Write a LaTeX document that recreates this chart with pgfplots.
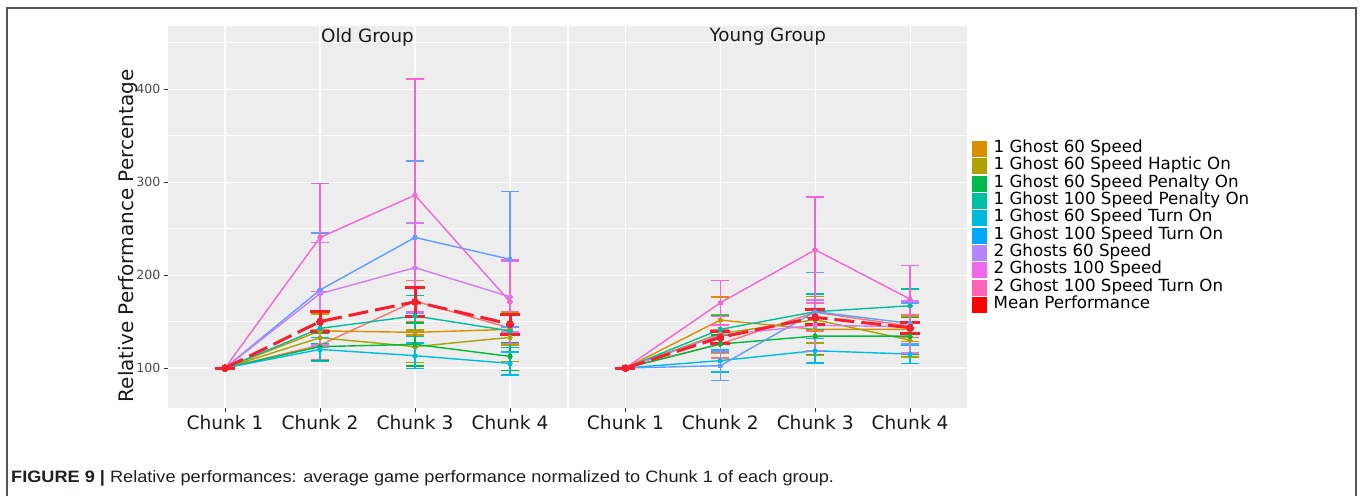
\documentclass[border=0pt]{standalone}
\usepackage{pgfplots}
\pgfplotsset{compat=1.18}
\usepackage{fontspec}
\setmainfont{DejaVu Sans}
\newfontfamily\capfont[FakeStretch=1.1]{Liberation Sans}
\definecolor{c0}{HTML}{F8766D}
\definecolor{c1}{HTML}{D89000}
\definecolor{c2}{HTML}{A3A500}
\definecolor{c3}{HTML}{00B83A}
\definecolor{c4}{HTML}{00BF9C}
\definecolor{c5}{HTML}{00BCE0}
\definecolor{c6}{HTML}{619CFF}
\definecolor{c7}{HTML}{D07DF5}
\definecolor{c9}{HTML}{F564D0}
\definecolor{l1}{HTML}{DB8E00}
\definecolor{l2}{HTML}{AEA200}
\definecolor{l3}{HTML}{00BA4A}
\definecolor{l4}{HTML}{00BFA5}
\definecolor{l5}{HTML}{00BADE}
\definecolor{l6}{HTML}{00A6FF}
\definecolor{l7}{HTML}{B385FF}
\definecolor{l8}{HTML}{EF67EB}
\definecolor{l9}{HTML}{FF63B6}
\definecolor{meanred}{HTML}{FF0000}
\definecolor{meanline}{HTML}{F5202E}
\definecolor{panelbg}{HTML}{EDEDED}
\definecolor{tickc}{HTML}{333333}
\definecolor{ytl}{HTML}{4D4D4D}
\definecolor{txt}{HTML}{1A1A1A}
\definecolor{framec}{HTML}{555555}
\definecolor{capc}{HTML}{231F20}
\pgfplotsset{
  ser/.style={color=#1, line width=1.4pt, solid, mark=*, mark size=2.2pt,
    mark options={solid, fill=#1, draw=#1, line width=0pt},
    error bars/y dir=both, error bars/y explicit,
    error bars/error bar style={line width=1.4pt, color=#1, solid},
    error bars/error mark options={rotate=90, mark size=9pt, line width=1.6pt, color=#1, solid}},
  meanser/.style={color=meanline, line width=3pt, dash pattern=on 20pt off 7pt, mark=*, mark size=3.5pt,
    mark options={solid, fill=meanline, draw=meanline, line width=0pt},
    error bars/y dir=both, error bars/y explicit,
    error bars/error bar style={line width=3pt, color=meanline, solid},
    error bars/error mark options={rotate=90, mark size=10pt, line width=3pt, color=meanline, solid}},
  panel/.style={scale only axis, height=382pt, xmin=0.4, xmax=4.6, ymin=57, ymax=468,
    axis background/.style={fill=panelbg}, axis line style={draw=none},
    xtick={1,2,3,4}, xticklabels={Chunk 1,Chunk 2,Chunk 3,Chunk 4},
    ytick={100,200,300,400}, minor ytick={150,250,350,450},
    grid=both, major grid style={white, line width=1.1pt}, minor grid style={white, line width=0.55pt},
    tick align=outside, major tick length=4pt, minor tick length=0pt,
    tick style={color=tickc, line width=1pt},
    x tick label style={font=\fontsize{18.6}{20}\selectfont, text=txt},
    y tick label style={font=\fontsize{12.6}{14}\selectfont, text=ytl},
    xtick pos=bottom, ytick pos=left}
}
\begin{document}
\begin{tikzpicture}[x=1pt,y=1pt]
\useasboundingbox (0,0) rectangle (1360,496);
\fill[white] (0,0) rectangle (1360,496);
\draw[line width=1.3pt, framec] (7,0) -- (7,488) -- (1356,488) -- (1356,0);

% ---------------- Old group ----------------
\begin{axis}[panel, at={(168pt,88pt)}, anchor=south west, width=399pt,
  yticklabels={100,200,300,400}]
\addplot+[ser=c0, forget plot] table[y error index=2] {
1 100 0
2 124.7 16
3 172 22
4 143 17
};
\addplot+[ser=c1, forget plot] table[y error index=2] {
1 100 0
2 140 18
3 138.4 3
4 141.6 17
};
\addplot+[ser=c2, forget plot] table[y error index=2] {
1 100 0
2 132.6 25
3 123 17
4 133 26
};
\addplot+[ser=c3, forget plot] table[y error index=2] {
1 100 0
2 123 15
3 125.5 23
4 112.5 15
};
\addplot+[ser=c4, forget plot] table[y error index=2] {
1 100 0
2 142.7 17
3 156 22
4 140 18
};
\addplot+[ser=c5, forget plot] table[y error index=2] {
1 100 0
2 120 13
3 113.3 13.7
4 105 12.5
};
\addplot+[ser=c6, forget plot] table[y error index=2] {
1 100 0
2 184 61
3 240.5 82
4 217 73
};
\addplot+[ser=c7, forget plot] table[y error index=2] {
1 100 0
2 180 55
3 208 48
4 176.7 38
};
\addplot+[ser=c9, forget plot] table[y error index=2] {
1 100 0
2 240.5 58
3 286 125
4 171.3 45
};
\addplot+[meanser, forget plot] table[y error index=2] {
1 100 0
2 150 10.5
3 171.3 15.5
4 147.3 10.7
};
\node[font=\fontsize{18.3}{20}\selectfont, text=txt] at (rel axis cs:0.5,1) [yshift=-11pt] {Old Group};
\end{axis}

% ---------------- Young group ----------------
\begin{axis}[panel, at={(568.5pt,88pt)}, anchor=south west, width=398.5pt,
  yticklabels={}, y tick style={draw=none},
  legend style={draw=none, fill=none, at={(1.0125,0.4747)}, anchor=west, inner sep=0pt,
    font=\fontsize{16.7}{18}\selectfont, row sep=0pt,
    nodes={inner sep=0pt, text height=12.5pt, text depth=4.8pt, anchor=west}},
  legend cell align=left,
  legend image code/.code={\fill (0pt,-7.5pt) rectangle (14pt,7.5pt); \path (21pt,0pt);}]
\addplot+[ser=c0, forget plot] table[y error index=2] {
1 100 0
2 126 15
3 160 20
4 145 12
};
\addplot+[ser=c1, forget plot] table[y error index=2] {
1 100 0
2 151.6 25
3 141.6 28
4 141.6 13
};
\addplot+[ser=c2, forget plot] table[y error index=2] {
1 100 0
2 137 20
3 152 25
4 130 18
};
\addplot+[ser=c3, forget plot] table[y error index=2] {
1 100 0
2 125.8 10
3 134.4 20
4 134.4 20
};
\addplot+[ser=c4, forget plot] table[y error index=2] {
1 100 0
2 141.6 15
3 160.6 19
4 167 18
};
\addplot+[ser=c5, forget plot] table[y error index=2] {
1 100 0
2 108 12
3 118.6 13
4 115 10
};
\addplot+[ser=c6, forget plot] table[y error index=2] {
1 100 0
2 102.5 16
3 160.6 42
4 148 22
};
\addplot+[ser=c7, forget plot] table[y error index=2] {
1 100 0
2 135.5 20
3 146 27
4 144.4 28
};
\addplot+[ser=c9, forget plot] table[y error index=2] {
1 100 0
2 170.2 24
3 227.2 57
4 174.2 36
};
\addplot+[meanser, forget plot] table[y error index=2] {
1 100 0
2 133 6.5
3 154.5 8
4 143.4 6
};
\node[font=\fontsize{18.3}{20}\selectfont, text=txt] at (rel axis cs:0.5,1) [yshift=-11pt] {Young Group};
\addlegendimage{color=l1}\addlegendentry{1 Ghost 60 Speed}
\addlegendimage{color=l2}\addlegendentry{1 Ghost 60 Speed Haptic On}
\addlegendimage{color=l3}\addlegendentry{1 Ghost 60 Speed Penalty On}
\addlegendimage{color=l4}\addlegendentry{1 Ghost 100 Speed Penalty On}
\addlegendimage{color=l5}\addlegendentry{1 Ghost 60 Speed Turn On}
\addlegendimage{color=l6}\addlegendentry{1 Ghost 100 Speed Turn On}
\addlegendimage{color=l7}\addlegendentry{2 Ghosts 60 Speed}
\addlegendimage{color=l8}\addlegendentry{2 Ghosts 100 Speed}
\addlegendimage{color=l9}\addlegendentry{2 Ghost 100 Speed Turn On}
\addlegendimage{color=meanred}\addlegendentry{Mean Performance}
\end{axis}

\node[rotate=90, anchor=base, font=\fontsize{20}{22}\selectfont, text=txt] at (133,260) {Relative Performance Percentage};
\node[anchor=base west, inner sep=0pt, font=\capfont\fontsize{16.5}{18}\selectfont, text=capc] at (11,13.3)
  {\textbf{FIGURE 9 |} Relative performances: average game performance normalized to Chunk 1 of each group.};
\end{tikzpicture}
\end{document}
